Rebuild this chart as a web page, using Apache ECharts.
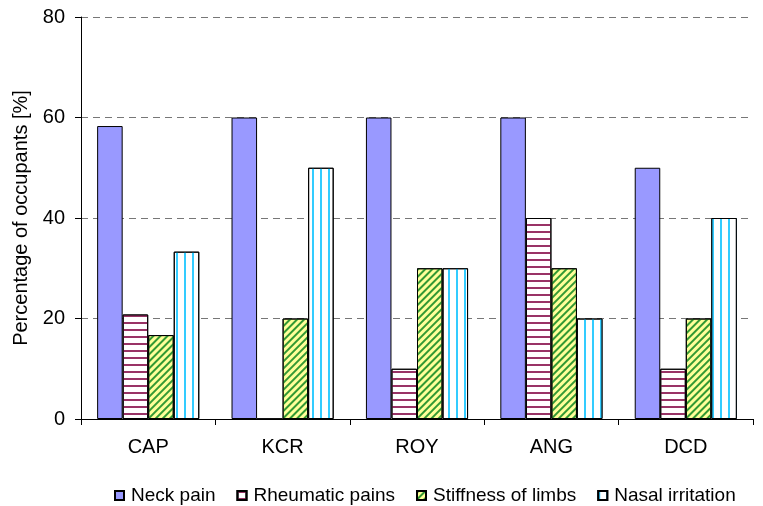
<!DOCTYPE html>
<html><head><meta charset="utf-8">
<script src="https://cdn.jsdelivr.net/npm/echarts@6/dist/echarts.min.js"></script>
<style>html,body{margin:0;padding:0;background:#fff}#c{width:763px;height:506px}</style>
</head><body><div id="c"></div>
<script>
const categories = ['CAP','KCR','ROY','ANG','DCD'];
const neckPain = [58.3, 60, 60, 60, 50];
const rheumaticPains = [20.8, 0, 10, 40, 10];
const stiffnessOfLimbs = [16.7, 20, 30, 30, 20];
const nasalIrritation = [33.3, 50, 30, 20, 40];
const yTicks = [0, 20, 40, 60, 80];

const font = 'Liberation Sans, Arial, sans-serif';
const chart = echarts.init(document.getElementById('c'));
const border = {borderColor:'#000', borderWidth:1};
chart.setOption({
  animation:false,
  aria:{enabled:false},
  grid:{left:81, right:10, top:17, bottom:87},
  legend:{
    top:481, left:109, itemWidth:9, itemHeight:9, itemGap:21, icon:'rect',
    textStyle:{fontFamily:font, fontSize:19, color:'#000', padding:[0,0,0,2]},
    data:['Neck pain','Rheumatic pains','Stiffness of limbs','Nasal irritation']
  },
  xAxis:{
    type:'category', data:categories,
    axisLine:{lineStyle:{color:'#000'}},
    axisTick:{show:true, length:6, lineStyle:{color:'#000'}},
    axisLabel:{fontFamily:font, fontSize:20, color:'#000', margin:18}
  },
  yAxis:{
    type:'value', min:yTicks[0], max:yTicks[yTicks.length-1], interval:20,
    name:'Percentage of occupants [%]', nameLocation:'middle', nameGap:49,
    nameTextStyle:{fontFamily:font, fontSize:20, color:'#000'},
    axisLine:{show:true, lineStyle:{color:'#000'}},
    axisTick:{show:true, length:6, lineStyle:{color:'#000'}},
    axisLabel:{fontFamily:font, fontSize:20, color:'#000', margin:16},
    splitLine:{show:true, lineStyle:{color:'#777', type:[7,5], width:1}}
  },
  series:[
    {name:'Neck pain', type:'bar', data:neckPain, barGap:'0%', barCategoryGap:'24%',
     itemStyle:Object.assign({color:'#9999ff'}, border)},
    {name:'Rheumatic pains', type:'bar', data:rheumaticPains,
     itemStyle:Object.assign({color:'#ffffff', decal:{symbol:'rect', symbolSize:1, color:'#993366', dashArrayX:[1,0], dashArrayY:[2,5], rotation:0}}, border)},
    {name:'Stiffness of limbs', type:'bar', data:stiffnessOfLimbs,
     itemStyle:Object.assign({color:'#ffff99', decal:{symbol:'rect', symbolSize:1, color:'#339933', dashArrayX:[1,0], dashArrayY:[2,3], rotation:-Math.PI/4}}, border)},
    {name:'Nasal irritation', type:'bar', data:nasalIrritation,
     itemStyle:Object.assign({color:'#ffffff', decal:{symbol:'rect', symbolSize:1, color:'#33ccff', dashArrayX:[2,6], dashArrayY:[1,0], rotation:0}}, border)}
  ]
});
</script></body></html>
